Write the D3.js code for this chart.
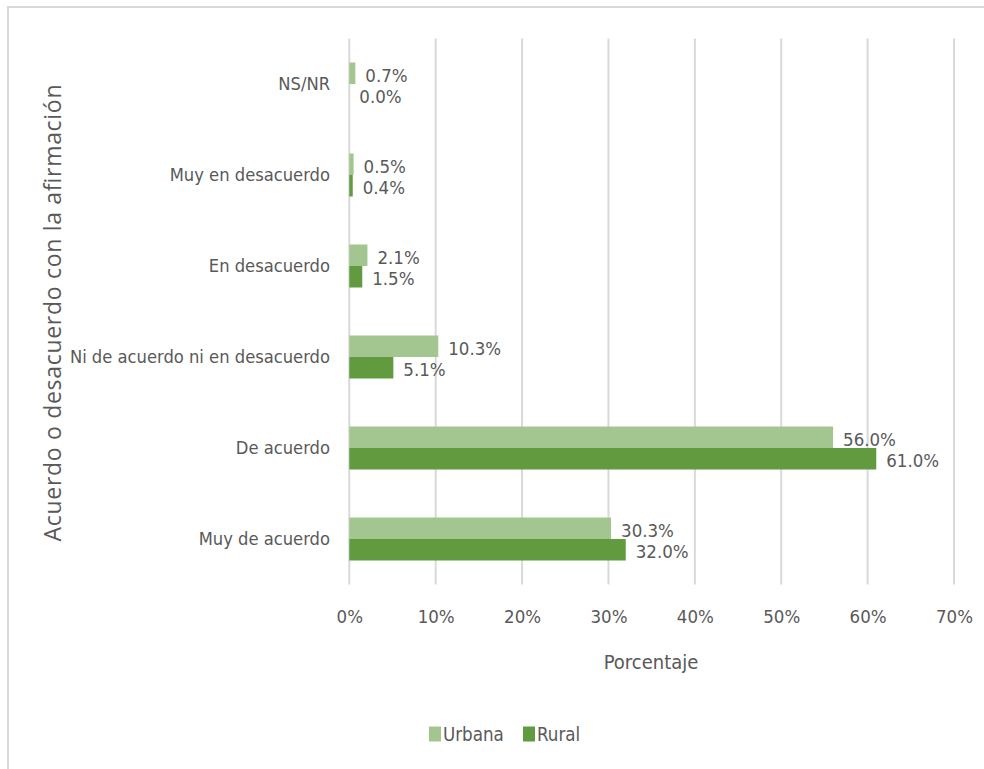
<!DOCTYPE html>
<html>
<head>
<meta charset="utf-8">
<script src="https://cdn.jsdelivr.net/npm/d3@7"></script>
<style>
  html, body { margin: 0; padding: 0; background: #fff; }
  svg { display: block; }
  .lbl { font-family: "Liberation Sans Narrow", "DejaVu Sans Condensed", sans-serif; fill: #595959; }
  .ttl { font-family: "Open Sans", "DejaVu Sans", sans-serif; fill: #595959; }
</style>
</head>
<body>
<svg id="chart" width="984" height="769"></svg>
<script>
// Survey answers by area, in percent
const categories = ["NS/NR", "Muy en desacuerdo", "En desacuerdo",
  "Ni de acuerdo ni en desacuerdo", "De acuerdo", "Muy de acuerdo"];
const urbana = [0.7, 0.5, 2.1, 10.3, 56.0, 30.3];
const rural = [0.0, 0.4, 1.5, 5.1, 61.0, 32.0];
const seriesNames = ["Urbana", "Rural"];
const seriesColors = ["#a3c58f", "#629a3f"];
const xTicks = [0, 10, 20, 30, 40, 50, 60, 70];

const svg = d3.select("#chart");

// outer chart frame (runs past the right and bottom edges)
svg.append("rect")
  .attr("x", 8).attr("y", 7)
  .attr("width", 1000).attr("height", 800)
  .attr("fill", "#fff")
  .attr("stroke", "#d9d9d9").attr("stroke-width", 2);

const x = d3.scaleLinear().domain([0, 70]).range([349.3, 954]);
const y = d3.scaleBand().domain(categories).range([38.5, 584.5]);
const barH = 21.5;
const inner = d3.scaleBand().domain(seriesNames)
  .range([y.bandwidth() / 2 - barH, y.bandwidth() / 2 + barH]);

// vertical gridlines
svg.append("g").selectAll("line").data(xTicks).join("line")
  .attr("x1", d => x(d)).attr("x2", d => x(d))
  .attr("y1", y.range()[0]).attr("y2", y.range()[1])
  .attr("stroke", "#d9d9d9").attr("stroke-width", 2);

// x axis tick labels
const xAxis = d3.axisBottom(x).tickValues(xTicks).tickFormat(d => d + "%").tickSize(0).tickPadding(0);
const gx = svg.append("g").attr("transform", "translate(0,617)").call(xAxis);
gx.select(".domain").remove();
gx.attr("font-family", null).attr("font-size", null);
gx.selectAll("text").attr("class", "lbl").attr("font-size", 18.5)
  .attr("dy", "0.35em").attr("y", 0);

// category labels
const yAxis = d3.axisLeft(y).tickSize(0).tickPadding(0);
const gy = svg.append("g").attr("transform", "translate(330,0)").call(yAxis);
gy.select(".domain").remove();
gy.attr("font-family", null).attr("font-size", null);
gy.selectAll("text").attr("class", "lbl").attr("font-size", 18.2).attr("dy", "0.35em");

// bars and value labels
const rows = categories.map((c, i) => ({ cat: c, values: [urbana[i], rural[i]] }));
const groups = svg.append("g").selectAll("g").data(rows).join("g")
  .attr("transform", d => `translate(0,${y(d.cat)})`);

groups.selectAll("rect").data(d => d.values.map((v, j) => ({ v, s: seriesNames[j], j })))
  .join("rect")
  .attr("x", x(0))
  .attr("y", d => inner(d.s))
  .attr("width", d => x(d.v) - x(0))
  .attr("height", inner.bandwidth())
  .attr("fill", d => seriesColors[d.j]);

groups.selectAll("text").data(d => d.values.map((v, j) => ({ v, s: seriesNames[j], j })))
  .join("text")
  .attr("class", "lbl")
  .attr("font-size", 18.5)
  .attr("x", d => x(d.v) + 10)
  .attr("y", d => inner(d.s) + inner.bandwidth() / 2 + 2)
  .attr("dy", "0.35em")
  .text(d => d.v.toFixed(1) + "%");

// axis titles
svg.append("text").attr("class", "lbl").attr("font-size", 20)
  .attr("x", 651).attr("y", 662).attr("dy", "0.35em")
  .attr("text-anchor", "middle").text("Porcentaje");

svg.append("text").attr("class", "ttl").attr("font-size", 23)
  .attr("transform", "translate(53,313) rotate(-90)")
  .attr("text-anchor", "middle").attr("dy", "0.35em")
  .attr("textLength", 457).attr("lengthAdjust", "spacing")
  .text("Acuerdo o desacuerdo con la afirmación");

// legend
const legend = svg.append("g").attr("transform", "translate(0,734)");
const legendX = [429, 523];
seriesNames.forEach((s, i) => {
  legend.append("rect").attr("x", legendX[i]).attr("y", -7.5)
    .attr("width", 12).attr("height", 15).attr("fill", seriesColors[i]);
  legend.append("text").attr("class", "lbl").attr("font-size", 18.6)
    .attr("x", legendX[i] + 14).attr("y", 0).attr("dy", "0.35em").text(s);
});
</script>
</body>
</html>
